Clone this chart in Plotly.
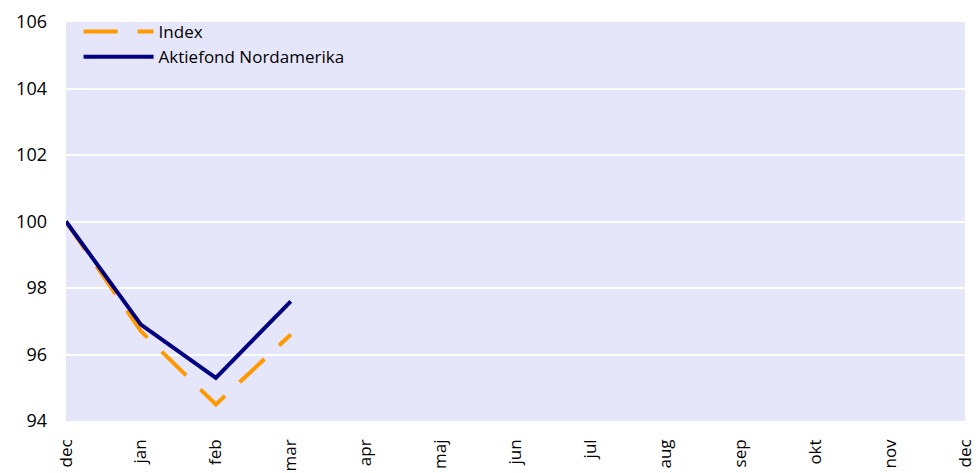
import plotly.graph_objects as go

months = ["dec", "jan", "feb", "mar", "apr", "maj", "jun", "jul", "aug", "sep", "okt", "nov", "dec"]
index_vals = [100, 96.7, 94.5, 96.6, None, None, None, None, None, None, None, None, None]
fund_vals = [100, 96.9, 95.3, 97.6, None, None, None, None, None, None, None, None, None]
pos = list(range(len(months)))

fig = go.Figure()
fig.add_trace(go.Scatter(x=pos, y=index_vals, mode="lines", name="Index",
                         line=dict(color="#FF9900", width=4, dash="34px,20px")))
fig.add_trace(go.Scatter(x=pos, y=fund_vals, mode="lines", name="Aktiefond Nordamerika",
                         line=dict(color="#000080", width=4)))

fig.update_layout(
   width=976, height=473,
   margin=dict(l=66, r=11, t=22, b=52, autoexpand=False),
   plot_bgcolor="#E6E6FA",
   paper_bgcolor="white",
   font=dict(family="Open Sans", color="black"),
   showlegend=True,
   legend=dict(x=0.014, y=1.02, xanchor="left", yanchor="top",
               bgcolor="rgba(0,0,0,0)", font=dict(size=17),
               itemwidth=70, tracegroupgap=0),
)
fig.update_xaxes(range=[0, 12], tickvals=pos, ticktext=months, showgrid=False, tickangle=-90,
                 tickfont=dict(size=17), ticks="", ticklabelstandoff=14, showline=False,
                 zeroline=False, automargin=False)
fig.update_yaxes(range=[94, 106], dtick=2, gridcolor="white", gridwidth=2,
                 tickfont=dict(size=18), ticks="", ticklabelstandoff=18,
                 zeroline=False, showline=False, automargin=False)

# drop the default body margin so the figure fills the window exactly
fig.write_html("out.html", config={"displayModeBar": False},
               post_script="document.body.style.margin='0';document.body.style.overflow='hidden';")
